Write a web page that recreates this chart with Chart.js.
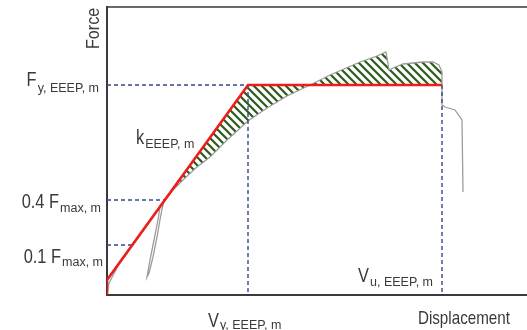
<!DOCTYPE html>
<html lang="en">
<head>
<meta charset="UTF-8">
<title>EEEP curve</title>
<script src="https://cdn.jsdelivr.net/npm/chart.js@4.4.1/dist/chart.umd.min.js"></script>
<style>
  html, body { margin: 0; padding: 0; background: #fff; }
</style>
</head>
<body>
<canvas id="chart" width="527" height="330"></canvas>
<script>
// test curve (displacement / force, arbitrary units)
const testDisp  = [0, 2, 12, 30, 45, 53, 51, 47, 43, 40, 42, 46, 50, 53, 55, 57, 65, 78, 90, 103, 120, 141, 160, 180, 203, 223, 253, 270, 279, 282, 286, 296, 306, 316, 326, 332, 335, 335, 335, 338, 348, 355, 356];
const testForce = [0, 12, 31, 56, 77, 88, 75, 55, 35, 18, 22, 38, 58, 75, 86, 94, 104, 117, 128, 138, 155, 174, 187, 199, 210, 220, 233, 239, 243, 225, 227, 231, 232, 233, 233, 230, 223, 210, 190, 188, 185, 175, 103];

// equivalent energy elastic-plastic curve
const eeepDisp  = [0, 0, 141, 335];
const eeepForce = [0, 15, 210, 210];

// reference levels
const fyEEEP = 210;
const f04 = 95;
const f01 = 50;
const vyEEEP = 141;
const vuEEEP = 335;
const f04Disp = 57;
const f01Disp = 25;

const pts = (xs, ys) => xs.map((x, i) => ({x: x, y: ys[i]}));

// hatched region: test curve between 0.4 Fmax and Vu, against the EEEP line
const iStart = testForce.indexOf(94);
const iEnd = testDisp.findIndex((x, i) => x === vuEEEP && testForce[i] === fyEEEP);
const hatchTest = pts(testDisp, testForce).slice(iStart, iEnd + 1);
const hatchEeep = [hatchTest[0]].concat(pts(eeepDisp, eeepForce).filter(p => p.x > hatchTest[0].x));

function stripes() {
  const c = document.createElement('canvas');
  c.width = 8; c.height = 8;
  const g = c.getContext('2d');
  g.fillStyle = '#ffffff';
  g.fillRect(0, 0, 8, 8);
  g.strokeStyle = '#2c5a1c';
  g.lineWidth = 2.2;
  g.beginPath();
  g.moveTo(-2, -2); g.lineTo(10, 10);
  g.moveTo(-2, 6); g.lineTo(2, 10);
  g.moveTo(6, -2); g.lineTo(10, 2);
  g.stroke();
  return g.createPattern(c, 'repeat');
}

const dashBlue = '#34478c';
const textCol = '#3a3a3a';
const MAIN = '20px "Liberation Sans", Arial, sans-serif';
const SUB = '12.5px "Liberation Sans", Arial, sans-serif';
const SX = 0.82;

function mainWidth(ctx, t) {
  ctx.font = MAIN;
  return ctx.measureText(t).width * SX;
}
function subWidth(ctx, t) {
  ctx.font = SUB;
  return ctx.measureText(t).width;
}
// main text with subscript, left edge at x, main baseline at y
function drawSub(ctx, x, y, main, sub, subDy) {
  ctx.save();
  ctx.fillStyle = textCol;
  ctx.textBaseline = 'alphabetic';
  ctx.textAlign = 'left';
  ctx.font = MAIN;
  ctx.save();
  ctx.translate(x, y);
  ctx.scale(SX, 1);
  ctx.fillText(main, 0, 0);
  ctx.restore();
  const w = mainWidth(ctx, main);
  ctx.font = SUB;
  ctx.fillText(sub, x + w + 1, y + subDy);
  ctx.restore();
}
function subTotal(ctx, main, sub) {
  return mainWidth(ctx, main) + 1 + subWidth(ctx, sub);
}

const labelPlugin = {
  id: 'labels',
  afterDraw(chart) {
    const ctx = chart.ctx;
    const xs = chart.scales.x, ys = chart.scales.y;
    const area = chart.chartArea;
    let w, px, py;

    // y side labels
    py = ys.getPixelForValue(fyEEEP);
    w = subTotal(ctx, 'F', 'y, EEEP, m');
    drawSub(ctx, area.left - 8 - w, py + 1, 'F', 'y, EEEP, m', 6);

    py = ys.getPixelForValue(f04);
    w = subTotal(ctx, '0.4 F', 'max, m');
    drawSub(ctx, area.left - 6 - w, py + 8, '0.4 F', 'max, m', 4);

    py = ys.getPixelForValue(f01);
    w = subTotal(ctx, '0.1 F', 'max, m');
    drawSub(ctx, area.left - 4 - w, py + 18, '0.1 F', 'max, m', 3);

    // x side labels
    px = xs.getPixelForValue(vyEEEP);
    drawSub(ctx, px - 40, area.bottom + 32, 'V', 'y, EEEP, m', 2);

    px = xs.getPixelForValue(vuEEEP);
    w = subTotal(ctx, 'V', 'u, EEEP, m');
    drawSub(ctx, px - 9 - w, area.bottom - 13, 'V', 'u, EEEP, m', 4);

    // stiffness label
    drawSub(ctx, xs.getPixelForValue(29), ys.getPixelForValue(151), 'k', 'EEEP, m', 4);

    // axis titles
    ctx.save();
    ctx.fillStyle = textCol;
    ctx.font = '19px "Liberation Sans", Arial, sans-serif';
    ctx.textAlign = 'right';
    ctx.translate(area.right - 17, area.bottom + 29);
    ctx.scale(0.8, 1);
    ctx.fillText('Displacement', 0, 0);
    ctx.restore();

    ctx.save();
    ctx.fillStyle = textCol;
    ctx.font = '19px "Liberation Sans", Arial, sans-serif';
    ctx.textAlign = 'left';
    ctx.translate(area.left - 8, area.top + 42);
    ctx.rotate(-Math.PI / 2);
    ctx.scale(0.85, 1);
    ctx.fillText('Force', 0, 0);
    ctx.restore();
  }
};

const line = (data, color, width, dash) => ({
  data: data,
  showLine: true,
  borderColor: color,
  borderWidth: width,
  borderDash: dash || [],
  pointRadius: 0,
  fill: false,
  tension: 0
});

const ctx = document.getElementById('chart').getContext('2d');
new Chart(ctx, {
  type: 'scatter',
  data: {
    datasets: [
      line(pts(eeepDisp, eeepForce), '#ee1d1d', 2.6),
      line([{x: 0, y: fyEEEP}, {x: vyEEEP, y: fyEEEP}], dashBlue, 1.4, [4, 3]),
      line([{x: 0, y: f04}, {x: f04Disp, y: f04}], dashBlue, 1.4, [4, 3]),
      line([{x: 0, y: f01}, {x: f01Disp, y: f01}], dashBlue, 1.4, [4, 3]),
      line([{x: vyEEEP, y: fyEEEP}, {x: vyEEEP, y: 0}], dashBlue, 1.4, [4, 3]),
      line([{x: vuEEEP, y: fyEEEP}, {x: vuEEEP, y: 0}], dashBlue, 1.4, [4, 3]),
      line(pts(testDisp, testForce), '#9c9c9c', 1.3),
      Object.assign(line(hatchTest, 'rgba(0,0,0,0)', 0), {fill: '+1', backgroundColor: stripes()}),
      line(hatchEeep, 'rgba(0,0,0,0)', 0)
    ]
  },
  options: {
    responsive: false,
    animation: false,
    events: [],
    layout: { padding: { left: 107, top: 7, right: 0, bottom: 35 } },
    plugins: { legend: { display: false }, tooltip: { enabled: false } },
    scales: {
      x: {
        type: 'linear', min: 0, max: 420,
        grid: { display: false, drawTicks: false },
        ticks: { display: false },
        border: { display: true, color: '#3a3a3a', width: 2 }
      },
      x2: {
        type: 'linear', position: 'top', min: 0, max: 420,
        grid: { display: false, drawTicks: false },
        ticks: { display: false },
        border: { display: true, color: '#6a6a6a', width: 2 }
      },
      y: {
        type: 'linear', min: 0, max: 288,
        grid: { display: false, drawTicks: false },
        ticks: { display: false },
        border: { display: true, color: '#3a3a3a', width: 2 }
      }
    }
  },
  plugins: [labelPlugin]
});
</script>
</body>
</html>
